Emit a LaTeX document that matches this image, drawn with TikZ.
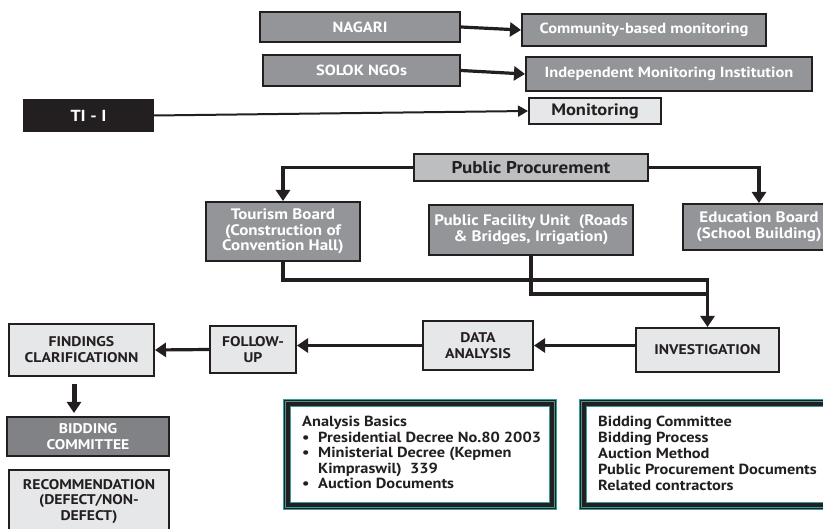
\documentclass[tikz,border=0pt]{standalone}
\usepackage{fontspec}
\setmainfont{PT Sans}[FakeStretch=1.12]
\usetikzlibrary{arrows.meta,calc}
\definecolor{ink}{HTML}{231F20}
\definecolor{midgray}{HTML}{939598}
\definecolor{lightgray}{HTML}{E6E7E8}
\definecolor{ppgray}{HTML}{BCBEC0}
\definecolor{darkgray}{HTML}{808285}
\definecolor{tealc}{HTML}{3A9C9A}
% box given by its corners: name, style, x1, y1, x2, y2, text
\newcommand\mkbox[7]{\node[#2, minimum width={(#5)-(#3)}, minimum height={(#6)-(#4)}] (#1) at ({((#3)+(#5))/2},{((#4)+(#6))/2}) {#7};}
\begin{document}
\begin{tikzpicture}[x=1pt,y=-1pt,font=\bfseries,
  basebox/.style={draw=ink, line width=2pt, inner sep=0pt, align=center},
  graybox/.style={basebox, fill=midgray, text=white},
  lightbox/.style={basebox, fill=lightgray, text=ink},
  darkbox/.style={basebox, fill=darkgray, text=white},
  blackbox/.style={basebox, fill=ink, draw=ink, text=white, font=\bfseries\fontsize{16}{18}\selectfont},
  ppbox/.style={basebox, fill=ppgray, text=ink, font=\bfseries\fontsize{17}{19}\selectfont},
  topf/.style={font=\bfseries\fontsize{14.7}{16}\selectfont},
  midf/.style={font=\bfseries\fontsize{15.2}{15.5}\selectfont},
  rowf/.style={font=\bfseries\fontsize{14}{15.8}\selectfont},
  conn/.style={draw=ink, line width=3.2pt, -{Triangle[length=11pt,width=14pt]}},
  plainconn/.style={draw=ink, line width=3.2pt},
  thinconn/.style={draw=ink, line width=2pt, -{Triangle[length=10pt,width=11pt]}},
  blockarrow/.style={draw=ink, line width=5pt, -{Triangle[length=11pt,width=14pt]}},
  listtext/.style={text=ink, inner sep=0pt, anchor=base west, align=left}]
\useasboundingbox (0,0) rectangle (823,529);
\clip (0,0) rectangle (823,529);
\fill[white] (0,0) rectangle (823,529);

% monitoring actors
\mkbox{nagari}{graybox,topf}{260}{12}{460}{42}{NAGARI}
\mkbox{cbm}{graybox,topf}{522}{14}{766}{46}{Community-based monitoring}
\mkbox{solok}{graybox,topf}{263}{55}{460}{86}{SOLOK NGOs}
\mkbox{imi}{graybox,topf}{526}{57}{812}{91}{Independent Monitoring Institution}
\mkbox{tii}{blackbox}{24}{100}{153}{131}{TI - I}
\mkbox{mon}{lightbox,font=\bfseries\fontsize{16.5}{18}\selectfont}{529}{98}{661}{124}{Monitoring}

\draw[conn] (nagari.east) -- (cbm.west);
\draw[conn] (solok.east) -- (imi.west);
\draw[thinconn] (tii.east) -- (mon.west);

% procurement units
\mkbox{pp}{ppbox}{414}{154}{648}{181}{Public Procurement}
\mkbox{tour}{graybox,midf}{206}{202}{360}{261}{Tourism Board\\(Construction of\\Convention Hall)}
\mkbox{pf}{graybox,midf}{429}{205}{633}{255}{Public Facility Unit~~(Roads\\\& Bridges, Irrigation)}
\mkbox{edu}{graybox,midf}{683}{204}{835}{250}{Education Board\\(School Building)}

\draw[conn] (pp.west) -| (tour.north);
\draw[conn] (pp.east) -| (edu.north);

% process chain
\mkbox{inv}{lightbox,rowf}{636}{328}{779}{372}{INVESTIGATION}
\mkbox{data}{lightbox,rowf}{423}{321}{533}{370}{DATA\\ANALYSIS}
\mkbox{fol}{lightbox,rowf}{210}{326}{296}{373}{FOLLOW-\\UP}
\mkbox{find}{lightbox,rowf}{9}{324}{154}{376}{FINDINGS\\CLARIFICATIONN}
\mkbox{bid}{darkbox,rowf}{7}{417}{169}{456}{BIDDING\\COMMITTEE}
\mkbox{rec}{lightbox,rowf}{9}{470}{169}{533}{RECOMMENDATION\\(DEFECT/NON-\\DEFECT)}

\coordinate (ty) at (0,280);
\coordinate (py) at (0,294);
\coordinate (tb) at (inv.north |- ty);
\coordinate (pb) at (inv.north |- py);
\draw[plainconn] (tour.south) |- (tb) -- (pb);
\draw[conn] (pf.south) |- (pb) -- (inv.north);

\draw[conn] (inv.west |- data.east) -- (data.east);
\draw[conn] (data.west) -- (data.west -| fol.east);
\draw[conn] (fol.west) -- (find.east);

\coordinate (fx) at (74,0);
\draw[blockarrow, shorten <=7pt, shorten >=3pt] (find.south -| fx) -- (bid.north -| fx);

% framed reference lists
\node[minimum width=274, minimum height=111, inner sep=0pt] (abframe) at (420,454.5) {};
\node[minimum width=261, minimum height=111, inner sep=0pt] (bcframe) at (709.5,454.5) {};
\foreach \fr in {abframe,bcframe}{
  \foreach \d/\c in {0/tealc,1.3/ink,2.3/tealc,3.3/ink,7.3/tealc,8.6/white}{
    \fill[\c] ($(\fr.north west)+(\d,\d)$) rectangle ($(\fr.south east)+(-\d,-\d)$);
  }
}
\node[listtext, font=\bfseries\fontsize{14.6}{15.5}\selectfont] (abtext) at (302,427)
  {\begin{tabular}[t]{@{}p{11pt}@{\hspace{5pt}}l@{}}
   \multicolumn{2}{@{}l@{}}{Analysis Basics}\\
   \textbullet & Presidential Decree No.80 2003\\
   \textbullet & Ministerial Decree (Kepmen\\
               & Kimpraswil)~~339\\
   \textbullet & Auction Documents
   \end{tabular}};
\node[listtext, font=\bfseries\fontsize{14.6}{16}\selectfont] (bctext) at (598,427)
  {\begin{tabular}[t]{@{}l@{}}
   Bidding Committee\\
   Bidding Process\\
   Auction Method\\
   Public Procurement Documents\\
   Related contractors
   \end{tabular}};
\end{tikzpicture}
\end{document}
